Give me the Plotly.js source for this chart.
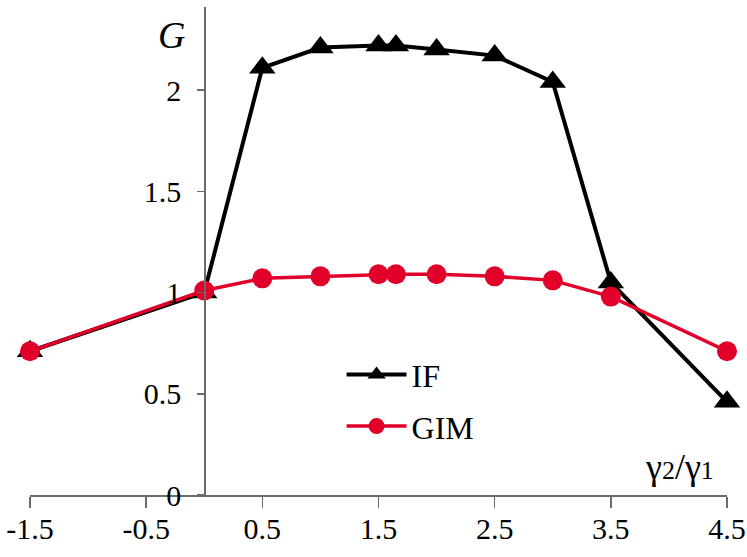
<!DOCTYPE html>
<html>
<head>
<meta charset="utf-8">
<script src="https://cdn.plot.ly/plotly-3.0.1.min.js"></script>
<style>html,body{margin:0;padding:0;background:#fff;}#chart{width:747px;height:557px;}</style>
</head>
<body>
<div id="chart"></div>
<script>
const ratio = [-1.5, 0, 0.5, 1, 1.5, 1.65, 2, 2.5, 3, 3.5, 4.5];
const gIF = [0.71, 1.0, 2.11, 2.21, 2.22, 2.22, 2.20, 2.17, 2.04, 1.05, 0.46];
const gGIM = [0.71, 1.01, 1.07, 1.08, 1.09, 1.09, 1.09, 1.08, 1.06, 0.98, 0.71];
const xTicks = [-1.5, -0.5, 0.5, 1.5, 2.5, 3.5, 4.5];
const xTickText = ['-1.5', '-0.5', '0.5', '1.5', '2.5', '3.5', '4.5'];
const yTicks = [0, 0.5, 1, 1.5, 2];
const yTickText = ['0', '0.5', '1', '1.5', '2'];

const serif = 'Liberation Serif';
const red = '#e0002a';

const traces = [
  {
    x: ratio, y: gIF, name: 'IF', type: 'scatter', mode: 'lines+markers',
    legendgroup: 'a',
    line: {color: '#000', width: 4},
    marker: {symbol: 'triangle-up', size: 23, color: '#000'},
    cliponaxis: false
  },
  {
    x: ratio, y: gGIM, name: 'GIM', type: 'scatter', mode: 'lines+markers',
    legendgroup: 'b',
    line: {color: red, width: 3.5},
    marker: {symbol: 'circle', size: 20, color: red},
    cliponaxis: false
  }
];

const layout = {
  width: 747, height: 557,
  margin: {l: 30, r: 20, t: 7, b: 62},
  paper_bgcolor: '#fff', plot_bgcolor: '#fff',
  font: {family: serif, size: 30, color: '#000'},
  showlegend: true,
  legend: {
    x: 0.447, y: 0.303, xanchor: 'left', yanchor: 'top',
    bgcolor: 'rgba(0,0,0,0)', borderwidth: 0,
    font: {family: serif, size: 32, color: '#000'},
    itemwidth: 60, tracegroupgap: 7, traceorder: 'grouped'
  },
  xaxis: {
    range: [-1.5, 4.5], tickvals: xTicks, ticktext: xTickText,
    showgrid: false, zeroline: false, showline: true,
    linecolor: '#6b6b6b', linewidth: 1.5,
    ticks: 'outside', ticklen: 11, tickwidth: 1.5, tickcolor: '#6b6b6b',
    ticklabelstandoff: -5,
    tickfont: {family: serif, size: 30, color: '#000'},
    fixedrange: true
  },
  yaxis: {
    range: [0, 2.41], tickvals: yTicks, ticktext: yTickText,
    anchor: 'free', position: 0.25,
    showgrid: false, zeroline: false, showline: true,
    linecolor: '#6b6b6b', linewidth: 1.5,
    ticks: 'outside', ticklen: 7, tickwidth: 1.5, tickcolor: '#6b6b6b',
    ticklabelstandoff: 10,
    tickfont: {family: serif, size: 30, color: '#000'},
    fixedrange: true
  },
  annotations: [
    {
      x: -0.28, y: 2.27, xref: 'x', yref: 'y', showarrow: false,
      text: '<i>G</i>', font: {family: serif, size: 38, color: '#000'}
    },
    {
      x: 4.09, y: 0.14, xref: 'x', yref: 'y', showarrow: false,
      text: 'γ<span style="font-size:26px">2</span>/γ<span style="font-size:26px">1</span>',
      font: {family: serif, size: 36, color: '#000'}
    }
  ]
};

Plotly.newPlot('chart', traces, layout, {displayModeBar: false, staticPlot: true});
</script>
</body>
</html>
